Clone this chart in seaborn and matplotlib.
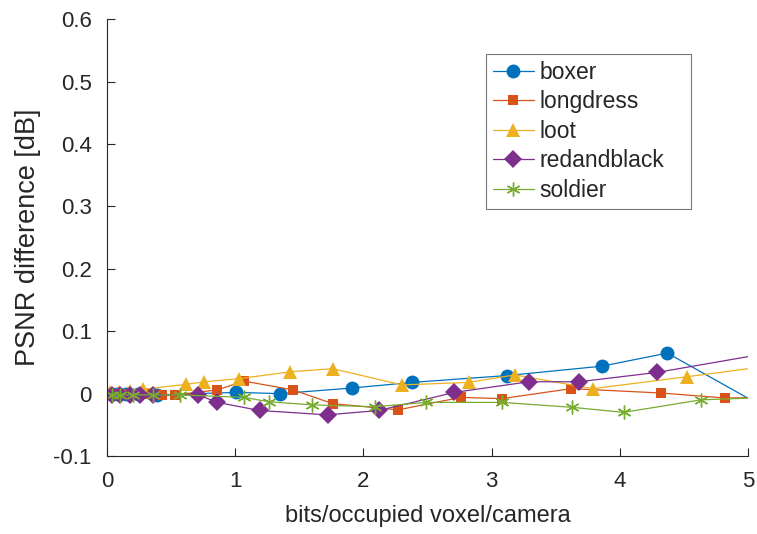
import matplotlib
matplotlib.use("Agg")
import matplotlib.pyplot as plt
import seaborn as sns
import pandas as pd
from matplotlib.ticker import FuncFormatter

# values (x in bits/occupied voxel/camera, y in dB)
boxer_x = [0.03, 0.08, 0.15, 0.24, 0.39, 1.01, 1.35, 1.91, 2.38, 3.12, 3.86, 4.37, 5.1]
boxer_y = [0.0, -0.001, 0.0, 0.0, -0.002, 0.002, 0.0, 0.009, 0.018, 0.029, 0.044, 0.065, -0.019]

longdress_x = [0.05, 0.17, 0.33, 0.43, 0.53, 0.86, 1.07, 1.45, 1.76, 2.27, 2.76, 3.08, 3.62, 4.32, 4.82, 5.3]
longdress_y = [0.0, 0.0, 0.0, -0.002, -0.002, 0.006, 0.02, 0.006, -0.016, -0.026, -0.006, -0.008, 0.008, 0.001, -0.007, -0.006]

loot_x = [0.02, 0.09, 0.18, 0.28, 0.62, 0.76, 1.03, 1.43, 1.76, 2.3, 2.82, 3.18, 3.79, 4.52, 5.3]
loot_y = [0.002, 0.003, 0.005, 0.007, 0.015, 0.019, 0.024, 0.035, 0.04, 0.014, 0.018, 0.03, 0.008, 0.027, 0.048]

redandblack_x = [0.04, 0.1, 0.18, 0.26, 0.36, 0.71, 0.86, 1.19, 1.72, 2.12, 2.71, 3.29, 3.68, 4.29, 5.3]
redandblack_y = [-0.002, -0.002, -0.002, -0.002, -0.002, -0.002, -0.014, -0.027, -0.034, -0.027, 0.002, 0.019, 0.019, 0.034, 0.07]

soldier_x = [0.04, 0.1, 0.2, 0.36, 0.57, 1.07, 1.26, 1.6, 2.09, 2.49, 3.08, 3.63, 4.03, 4.63, 5.3]
soldier_y = [-0.002, -0.002, -0.002, -0.002, -0.002, -0.006, -0.013, -0.018, -0.021, -0.014, -0.014, -0.022, -0.03, -0.01, -0.005]

names = ["boxer", "longdress", "loot", "redandblack", "soldier"]
xs = [boxer_x, longdress_x, loot_x, redandblack_x, soldier_x]
ys = [boxer_y, longdress_y, loot_y, redandblack_y, soldier_y]

colors = ["#0072BD", "#D95319", "#EDB120", "#7E2F8E", "#77AC30"]
markers = ["o", "s", "^", "D", "*"]
msizes = [10, 7.5, 10, 9, 10]

sns.set_style("white")
plt.rcParams["font.family"] = ["Liberation Sans", "DejaVu Sans"]
plt.rcParams["axes.unicode_minus"] = False

fig = plt.figure(figsize=(7.57, 5.34), dpi=100)
ax = fig.add_axes([0.1413, 0.146, 0.847, 0.818])

for name, x, y, c, m, ms in zip(names, xs, ys, colors, markers, msizes):
    df = pd.DataFrame({"x": x, "y": y})
    kw = dict(markeredgecolor=c, markerfacecolor=c, markersize=ms)
    if m == "*":
        # MATLAB-like asterisk
        m = (6, 2, 0)
        kw["markeredgewidth"] = 1.0
        kw["markerfacecolor"] = "none"
    else:
        kw["markeredgewidth"] = 0
    sns.lineplot(data=df, x="x", y="y", sort=False, ax=ax, color=c, marker=m,
                 linewidth=0.9, label=name, **kw)

ax.set_xlim(0, 5)
ax.set_ylim(-0.1, 0.6)
ax.set_xticks([0, 1, 2, 3, 4, 5])
ax.set_yticks([-0.1, 0, 0.1, 0.2, 0.3, 0.4, 0.5, 0.6])
ax.yaxis.set_major_formatter(FuncFormatter(lambda v, p: "%g" % round(v, 2)))
ax.tick_params(direction="in", length=6, width=0.8, colors="#262626", labelsize=16,
               labelcolor="#262626", top=False, right=False, left=True, bottom=True)
ax.tick_params(axis="y", pad=11)
ax.tick_params(axis="x", pad=11)
for s in ["top", "right"]:
    ax.spines[s].set_visible(False)
for s in ["left", "bottom"]:
    ax.spines[s].set_color("#262626")
    ax.spines[s].set_linewidth(0.8)

ax.set_xlabel("bits/occupied voxel/camera", fontsize=17, color="#262626", labelpad=9)
ax.set_ylabel("PSNR difference [dB]", fontsize=19.5, color="#262626", labelpad=9)

leg = ax.legend(loc="upper left", bbox_to_anchor=(0.591, 0.55, 0.32, 0.37), mode="expand",
                fontsize=16.5, frameon=True, fancybox=False, edgecolor="#555555",
                handlelength=1.8, labelspacing=0.28, borderpad=0.3, handletextpad=0.25,
                borderaxespad=0)
leg.get_frame().set_linewidth(0.8)

fig.savefig("out.png", dpi=100)
